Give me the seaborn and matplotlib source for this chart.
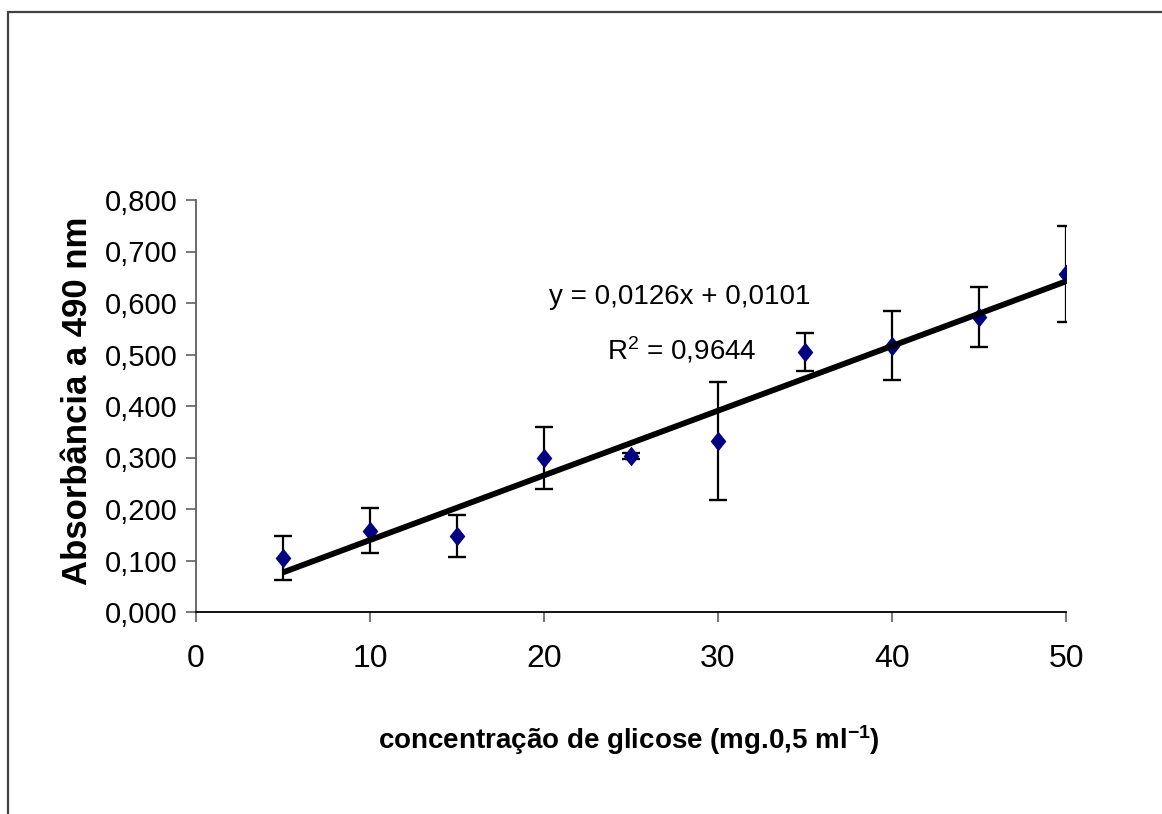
import numpy as np
import pandas as pd
import matplotlib
matplotlib.use("Agg")
import matplotlib.pyplot as plt
from matplotlib.lines import Line2D
import seaborn as sns

# glucose standard curve
concentracao = [5, 10, 15, 20, 25, 30, 35, 40, 45, 50]
absorbancia = [0.105, 0.158, 0.147, 0.299, 0.303, 0.332, 0.505, 0.517, 0.573, 0.656]
desvio = [0.043, 0.043, 0.041, 0.061, 0.005, 0.115, 0.037, 0.067, 0.058, 0.093]
y_ticks = [0.0, 0.1, 0.2, 0.3, 0.4, 0.5, 0.6, 0.7, 0.8]
x_ticks = [0, 10, 20, 30, 40, 50]

df = pd.DataFrame({"conc": concentracao, "abs": absorbancia, "sd": desvio})

sns.set_style("ticks")
plt.rcParams["font.family"] = ["Liberation Sans Narrow", "Liberation Sans", "DejaVu Sans"]
plt.rcParams["mathtext.default"] = "regular"
plt.rcParams["text.color"] = "black"
plt.rcParams["axes.labelcolor"] = "black"
plt.rcParams["xtick.labelcolor"] = "black"
plt.rcParams["ytick.labelcolor"] = "black"

fig = plt.figure(figsize=(11.62, 8.14), dpi=100)
ax = fig.add_axes([196 / 1162, 1 - 612 / 814, 870 / 1162, 412 / 814])

# error bars
ax.errorbar(df["conc"], df["abs"], yerr=df["sd"], fmt="none", ecolor="black",
            elinewidth=1.6, capsize=6.3, capthick=1.7, zorder=2)

# diamond markers (slightly taller than wide, like Excel)
diamond = [(0, 1), (0.8, 0), (0, -1), (-0.8, 0), (0, 1)]
sns.scatterplot(data=df, x="conc", y="abs", marker=diamond, s=200, color="#000080",
                edgecolor="#000080", linewidth=0, ax=ax, zorder=3)

# linear trendline
sns.regplot(data=df, x="conc", y="abs", scatter=False, ci=None, truncate=True,
            line_kws={"color": "black", "lw": 4.2, "solid_capstyle": "butt", "zorder": 4}, ax=ax)

ax.set_xlim(0, 50)
ax.set_ylim(0, 0.8)
ax.set_xticks(x_ticks)
ax.set_yticks(y_ticks)
ax.set_yticklabels([f"{v:.3f}".replace(".", ",") for v in y_ticks], fontsize=21)
ax.set_xticklabels([str(v) for v in x_ticks], fontsize=23)
ax.tick_params(axis="both", direction="out", length=7, width=1.2, color="#606060")
ax.tick_params(axis="y", pad=6)
ax.tick_params(axis="x", pad=16)

for side in ["top", "right"]:
    ax.spines[side].set_visible(False)
ax.spines["left"].set_color("#606060")
ax.spines["bottom"].set_color("black")
ax.spines["left"].set_linewidth(1.3)
ax.spines["bottom"].set_linewidth(1.3)

ax.set_xlabel("concentração de glicose (mg.0,5 ml$^{-1}$)", fontsize=20, fontweight="bold")
ax.set_ylabel("Absorbância a 490 nm", fontsize=25, fontweight="bold")
ax.xaxis.set_label_coords(433 / 870, (612 - 740) / 412)
ax.xaxis.label.set_va("center")
ax.yaxis.set_label_coords((78 - 196) / 870, (612 - 401) / 412)
ax.yaxis.label.set_va("center")

ax.text(27.8, 0.612, "y = 0,0126x + 0,0101", fontsize=20, ha="center", va="center")
ax.text(27.9, 0.509, "R$^2$ = 0,9644", fontsize=20, ha="center", va="center")

# chart area border (top and left edges visible)
fig.add_artist(Line2D([8 / 1162, 1.0], [1 - 11.5 / 814, 1 - 11.5 / 814],
                      color="#404040", lw=1.6, transform=fig.transFigure))
fig.add_artist(Line2D([8 / 1162, 8 / 1162], [0, 1 - 11.5 / 814],
                      color="#404040", lw=1.6, transform=fig.transFigure))

fig.savefig("out.png", dpi=100)
